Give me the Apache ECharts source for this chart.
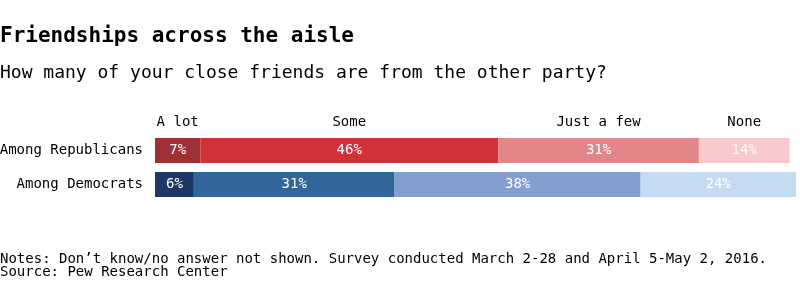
<!DOCTYPE html>
<html>
<head>
<meta charset="utf-8">
<script src="https://cdn.jsdelivr.net/npm/echarts@6/dist/echarts.min.js"></script>
<style>
html,body{margin:0;padding:0;background:#fff;}
#chart{width:800px;height:306px;}
</style>
</head>
<body>
<div id="chart"></div>
<script>
const categories = ['Among Republicans', 'Among Democrats'];
const seriesNames = ['A lot', 'Some', 'Just a few', 'None'];
const republicans = [7, 46, 31, 14];
const democrats = [6, 31, 38, 24];
const repColors = ['#9f3035', '#d03237', '#e3868a', '#f9c9cc'];
const demColors = ['#1e3767', '#32669b', '#849fcf', '#c5dbf2'];
const FONT = 'DejaVu Sans Mono';

const chart = echarts.init(document.getElementById('chart'));
let cum = 0;
const series = seriesNames.map((name, i) => {
  const center = cum + republicans[i] / 2;
  cum += republicans[i];
  return {
    name: name,
    type: 'bar',
    stack: 'total',
    barWidth: 25,
    data: [
      { value: republicans[i], itemStyle: { color: repColors[i] } },
      { value: democrats[i], itemStyle: { color: demColors[i] } }
    ],
    label: {
      show: true,
      position: 'inside',
      formatter: p => p.value + '%',
      color: '#fff',
      fontFamily: FONT,
      fontSize: 14
    },
    markPoint: {
      symbol: 'rect',
      symbolSize: 0,
      silent: true,
      data: [{ coord: [center, categories[0]] }],
      label: {
        show: true,
        position: 'inside',
        offset: [0, -28.5],
        formatter: name,
        color: '#000',
        fontFamily: FONT,
        fontSize: 14
      }
    }
  };
});

chart.setOption({
  animation: false,
  textStyle: { fontFamily: FONT },
  title: [
    { text: 'Friendships across the aisle', left: 0, top: 26, padding: 0,
      textStyle: { fontFamily: FONT, fontSize: 21, fontWeight: 'bold', color: '#000' } },
    { text: 'How many of your close friends are from the other party?', left: 0, top: 64, padding: 0,
      textStyle: { fontFamily: FONT, fontSize: 18, fontWeight: 'normal', color: '#000' } },
    { text: 'Notes: Don\u2019t know/no answer not shown. Survey conducted March 2-28 and April 5-May 2, 2016.\nSource: Pew Research Center', left: 0, top: 253, padding: 0,
      textStyle: { fontFamily: FONT, fontSize: 14, fontWeight: 'normal', color: '#000', lineHeight: 13 } }
  ],
  grid: { left: 155, top: 133.5, width: 647.5, height: 68, containLabel: false, outerBoundsMode: 'none' },
  xAxis: { type: 'value', min: 0, max: 100, show: false },
  yAxis: {
    type: 'category',
    data: categories,
    inverse: true,
    axisLine: { show: false },
    axisTick: { show: false },
    axisLabel: { margin: 12, color: '#000', fontFamily: FONT, fontSize: 14 }
  },
  series: series
});
</script>
</body>
</html>
